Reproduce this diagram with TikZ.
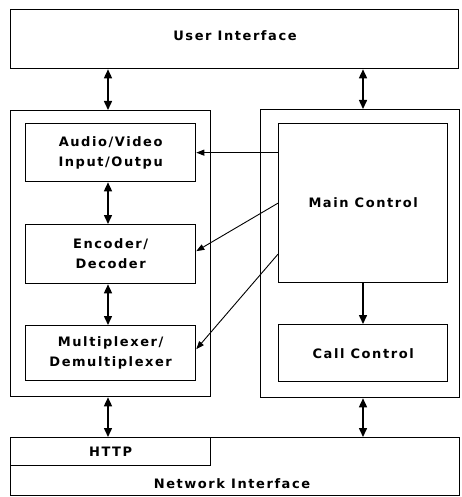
\documentclass[tikz,border=0pt]{standalone}
\usepackage{fontspec}
\newfontfamily\dfont{DejaVu Sans}[LetterSpace=12]
\usetikzlibrary{arrows.meta}
\begin{document}
\begin{tikzpicture}[x=1pt,y=-1pt,
  box/.style={draw, line width=1.3pt, inner sep=0pt, anchor=north west},
  lbl/.style={font=\dfont\bfseries\fontsize{13}{20}\selectfont, align=center},
  dbl/.style={{Triangle[length=9pt,width=8pt]}-{Triangle[length=9pt,width=8pt]}, line width=1.5pt},
  sgl/.style={-{Triangle[length=9pt,width=8pt]}, line width=1.5pt},
  thin/.style={-{Triangle[length=8pt,width=6pt]}, line width=0.9pt}]
\useasboundingbox (0,0) rectangle (461,497);
% outer panels
\node[box, minimum width=200pt, minimum height=286pt] (lp) at (10,110) {};
\node[box, minimum width=199pt, minimum height=288pt] (rp) at (260,109) {};
% user interface
\node[box, minimum width=448pt, minimum height=59pt] (ui) at (10,9) {};
\node[lbl] (uil) at (235,36) {User Interface};
% left boxes
\node[box, lbl, minimum width=170pt, minimum height=58pt] (av) at (25,123) {Audio/Video\\Input/Outpu};
\node[box, lbl, minimum width=170pt, minimum height=59pt] (enc) at (25,224) {Encoder/\\Decoder};
\node[box, lbl, minimum width=170pt, minimum height=55pt] (mux) at (25,325) {Multiplexer/\\Demultiplexer};
% right boxes
\node[box, lbl, minimum width=169pt, minimum height=159pt] (main) at (278,123) {Main Control};
\node[box, lbl, minimum width=169pt, minimum height=57pt] (call) at (278,324) {Call Control};
% network interface
\node[box, minimum width=449pt, minimum height=58pt] (net) at (10,437) {};
\node[box, lbl, minimum width=200pt, minimum height=28pt] (http) at (10,437) {HTTP};
\node[lbl] (netl) at (232,484) {Network Interface};
% arrow columns
\coordinate (lx) at (108,0);
\coordinate (rx) at (363,0);
\draw[dbl] (ui.south -| lx) -- (lp.north -| lx);
\draw[dbl] (ui.south -| rx) -- (rp.north -| rx);
\draw[dbl] (av.south -| lx) -- (enc.north -| lx);
\draw[dbl] (enc.south -| lx) -- (mux.north -| lx);
\draw[dbl] (lp.south -| lx) -- (http.north -| lx);
\draw[dbl] (rp.south -| rx) -- (net.north -| rx);
\draw[sgl] (main.south -| rx) -- (call.north -| rx);
% control lines
\draw[thin] (main.west |- av.east) -- (av.east);
\draw[thin] (main.west) -- ([yshift=3pt]enc.east);
\draw[thin] ([yshift=-51pt]main.west) -- ([yshift=4pt]mux.east);
\end{tikzpicture}
\end{document}
